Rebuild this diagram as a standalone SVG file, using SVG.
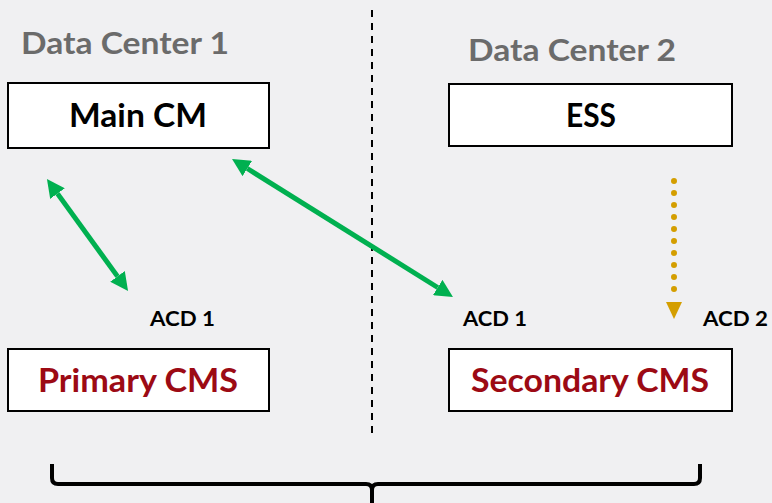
<svg xmlns="http://www.w3.org/2000/svg" width="772" height="503" viewBox="0 0 772 503">
<defs>
<marker id="gh" markerUnits="userSpaceOnUse" markerWidth="18" markerHeight="18" viewBox="0 0 18 18" refX="0" refY="9" orient="auto-start-reverse">
<path d="M0,0 L18,9 L0,18 z" fill="#00b050"/>
</marker>
<style>
.box{fill:#fff;stroke:#000;stroke-width:2}
.t{font-family:Lato,"Open Sans","Liberation Sans",sans-serif;font-weight:bold;text-anchor:middle}
.dc{fill:#6b6b6b;font-size:31px}
.nm{fill:#000;font-size:32px}
.cms{fill:#9c0a14;font-size:32px}
.acd{fill:#000;font-size:21px}
.g{stroke:#00b050;stroke-width:5;fill:none}
</style>
</defs>
<rect width="772" height="503" fill="#f0f0f2"/>
<line x1="372" y1="10" x2="372" y2="437" stroke="#000" stroke-width="2" stroke-dasharray="7,6"/>
<text class="t dc" x="125" y="54" textLength="208" lengthAdjust="spacingAndGlyphs">Data Center 1</text>
<text class="t dc" x="572" y="61" textLength="208" lengthAdjust="spacingAndGlyphs">Data Center 2</text>
<g id="main-cm"><rect class="box" x="8" y="83" width="261" height="65"/><text class="t nm" x="138" y="127" textLength="138" lengthAdjust="spacingAndGlyphs">Main CM</text></g>
<g id="ess"><rect class="box" x="449" y="84" width="283" height="62"/><text class="t nm" x="591" y="127" textLength="50" lengthAdjust="spacingAndGlyphs">ESS</text></g>
<g id="primary-cms"><rect class="box" x="8" y="349" width="261" height="62"/><text class="t cms" x="138" y="392" textLength="200" lengthAdjust="spacingAndGlyphs">Primary CMS</text></g>
<g id="secondary-cms"><rect class="box" x="449" y="349" width="283" height="62"/><text class="t cms" x="590" y="392" textLength="238" lengthAdjust="spacingAndGlyphs">Secondary CMS</text></g>
<g id="labels">
<text class="t acd" x="182.5" y="326" textLength="65" lengthAdjust="spacingAndGlyphs">ACD 1</text>
<text class="t acd" x="495" y="326" textLength="64" lengthAdjust="spacingAndGlyphs">ACD 1</text>
<text class="t acd" x="735.5" y="326" textLength="65" lengthAdjust="spacingAndGlyphs">ACD 2</text>
</g>
<g id="connectors">
<line class="g" x1="57.5" y1="193.6" x2="117.5" y2="276.4" marker-start="url(#gh)" marker-end="url(#gh)"/>
<line class="g" x1="247.3" y1="168.5" x2="437.7" y2="287.5" marker-start="url(#gh)" marker-end="url(#gh)"/>
<line x1="674" y1="181" x2="674" y2="301" stroke="#d49e00" stroke-width="6" stroke-linecap="round" stroke-dasharray="0,12"/>
<polygon points="666,302 682,302 674,319" fill="#d49e00"/>
<path d="M52,464 V478 Q52,484 58,484 H366 Q372,484 372,490 V503 M700,464 V478 Q700,484 694,484 H378 Q372,484 372,490" fill="none" stroke="#000" stroke-width="4"/>
</g>
</svg>
